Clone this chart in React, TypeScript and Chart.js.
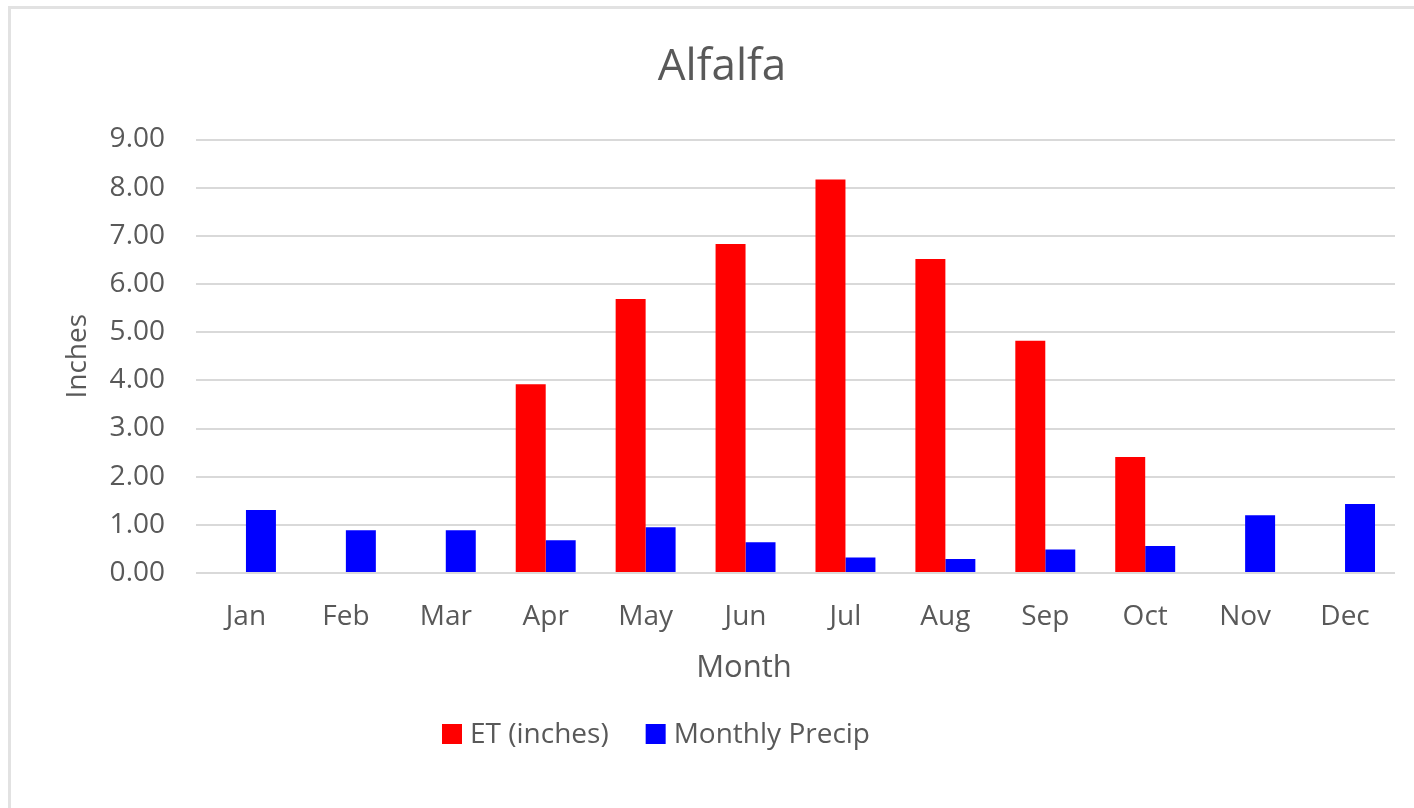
import React, { useEffect, useRef } from "react";
import { Chart, registerables } from "chart.js";

Chart.register(...registerables);

const chartTitle = "Alfalfa";
const xAxisTitle = "Month";
const yAxisTitle = "Inches";
const months = ["Jan", "Feb", "Mar", "Apr", "May", "Jun", "Jul", "Aug", "Sep", "Oct", "Nov", "Dec"];
const etValues = [null, null, null, 3.92, 5.69, 6.83, 8.17, 6.52, 4.82, 2.41, null, null];
const precipValues = [1.31, 0.89, 0.89, 0.68, 0.95, 0.64, 0.32, 0.29, 0.49, 0.56, 1.2, 1.43];
const seriesNames = ["ET (inches)", "Monthly Precip"];
const seriesColors = ["#ff0000", "#0000ff"];
const yTicksMin = 0;
const yTicksMax = 9;
const yStep = 1;

const FONT = "'Open Sans', sans-serif";
const TEXT = "#595959";

const decor = {
  id: "decor",
  beforeDraw(chart: any) {
    const { ctx, width, height } = chart;
    ctx.save();
    ctx.fillStyle = "#ffffff";
    ctx.fillRect(0, 0, width, height);
    ctx.fillStyle = "#e2e2e2";
    ctx.fillRect(8, 6, width - 8, 3);
    ctx.fillRect(8, 6, 3, height - 6);
    ctx.restore();
  },
  afterDraw(chart: any) {
    const { ctx } = chart;
    ctx.save();
    ctx.fillStyle = TEXT;
    ctx.textAlign = "center";
    ctx.textBaseline = "middle";
    // chart title
    ctx.font = `44px ${FONT}`;
    ctx.fillText(chartTitle, 722, 67);
    // x axis title
    ctx.font = `31px ${FONT}`;
    ctx.fillText(xAxisTitle, 744, 668);
    // legend
    ctx.font = `28px ${FONT}`;
    const box = 20;
    const gapBoxText = 8;
    const gapItems = 37;
    const items = chart.data.datasets.map((d: any) => ({
      label: d.label,
      color: d.backgroundColor,
      w: ctx.measureText(d.label).width,
    }));
    let total = 0;
    items.forEach((it: any, i: number) => {
      total += box + gapBoxText + it.w + (i < items.length - 1 ? gapItems : 0);
    });
    let x = 656 - total / 2;
    const cy = 734;
    ctx.textAlign = "left";
    items.forEach((it: any) => {
      ctx.fillStyle = it.color;
      ctx.fillRect(x, cy - box / 2, box, box);
      x += box + gapBoxText;
      ctx.fillStyle = TEXT;
      ctx.fillText(it.label, x, cy + 1);
      x += it.w + gapItems;
    });
    ctx.restore();
  },
};

export default function App() {
  const ref = useRef<HTMLCanvasElement | null>(null);
  useEffect(() => {
    if (!ref.current) return;
    const chart = new Chart(ref.current, {
      type: "bar",
      data: {
        labels: months,
        datasets: [
          { label: seriesNames[0], data: etValues, backgroundColor: seriesColors[0], borderWidth: 0 },
          { label: seriesNames[1], data: precipValues, backgroundColor: seriesColors[1], borderWidth: 0 },
        ],
      },
      plugins: [decor],
      options: {
        animation: false,
        responsive: false,
        devicePixelRatio: 1,
        layout: { padding: { left: 0, right: 19, top: 139.5, bottom: 118 } },
        datasets: { bar: { categoryPercentage: 0.6, barPercentage: 1.0 } },
        plugins: {
          tooltip: { enabled: false },
          title: { display: false },
          legend: { display: false },
        },
        scales: {
          x: {
            grid: { display: false, drawTicks: false },
            border: { display: false },
            ticks: { color: TEXT, font: { family: FONT, size: 28 }, padding: 27, maxRotation: 0 },
            title: { display: false },
            afterFit(scale: any) {
              scale.height = 117;
            },
          },
          y: {
            min: yTicksMin,
            max: yTicksMax,
            grid: { color: "#d9d9d9", lineWidth: 2, drawTicks: false },
            border: { display: false },
            ticks: {
              stepSize: yStep,
              color: TEXT,
              font: { family: FONT, size: 28 },
              padding: 31,
              callback: (v: any) => Number(v).toFixed(2),
            },
            title: {
              display: true,
              text: yAxisTitle,
              color: TEXT,
              font: { family: FONT, size: 28 },
              padding: { top: 61, bottom: 0 },
            },
            afterFit(scale: any) {
              scale.width = 196;
            },
          },
        },
      },
    });
    return () => chart.destroy();
  }, []);
  return (
    <div style={{ position: "absolute", left: 0, top: 0, width: 1414, height: 808, background: "#fff" }}>
      <canvas ref={ref} width={1414} height={808} style={{ display: "block", width: 1414, height: 808 }} />
    </div>
  );
}
